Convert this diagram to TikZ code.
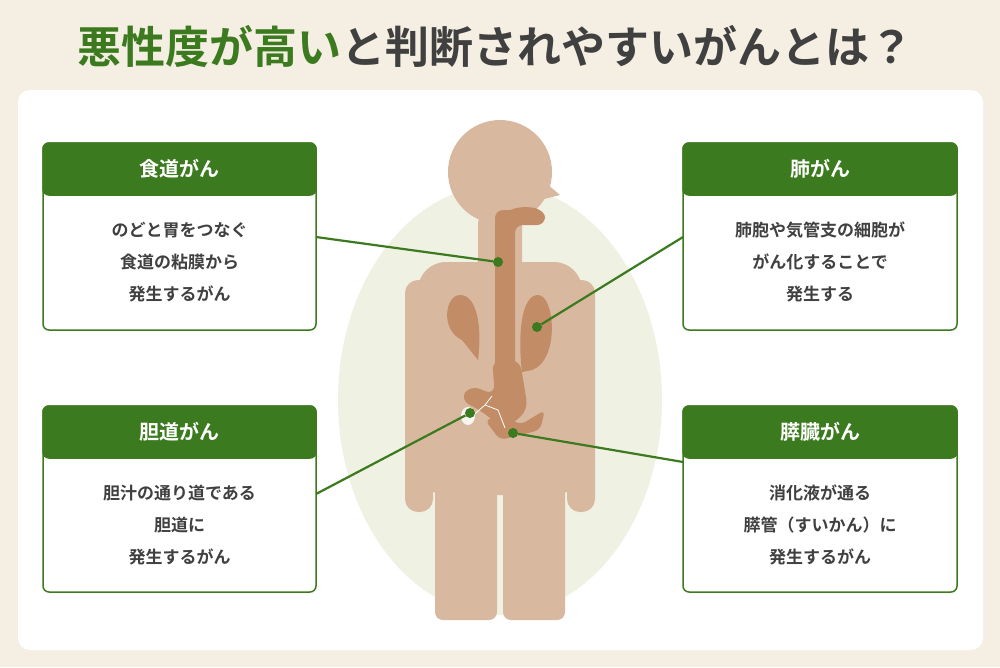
\documentclass[tikz,border=0pt]{standalone}
\usepackage{fontspec}
\setmainfont{Noto Sans CJK JP}
\newfontfamily\jpbold{Noto Sans CJK JP Bold}
\definecolor{bgbeige}{HTML}{F5EEE2}
\definecolor{leaf}{HTML}{3B7A1E}
\definecolor{ink}{HTML}{404040}
\definecolor{skin}{HTML}{D9B8A0}
\definecolor{organ}{HTML}{C28C66}
\definecolor{halo}{HTML}{EFF1E2}
\tikzset{
  head/.style={fill=leaf,draw=leaf,line width=1.5pt,rounded corners=6pt,text=white,font=\jpbold\fontsize{20}{20}\selectfont},
  card/.style={draw=leaf,line width=1.5pt,fill=white,rounded corners=6pt},
  txt/.style={align=center,text=ink,font=\jpbold\fontsize{17}{32}\selectfont},
  pin/.style={draw=leaf,line width=2.2pt},
  dot/.style={fill=leaf,circle,inner sep=0pt,minimum size=10pt}
}
\begin{document}
\begin{tikzpicture}[x=1pt,y=-1pt]
\fill[bgbeige] (0,0) rectangle (1000,667);
\useasboundingbox (0,0) rectangle (1000,667);
\fill[white,rounded corners=12pt] (18,90) rectangle (983,650);
\node (title) at (495,46) {\jpbold\fontsize{44}{44}\selectfont\textcolor{leaf}{悪性度が高い}\textcolor{ink}{と判断されやすいがんとは？}};
% body
\fill[halo] (500,400) ellipse (162 and 215);
\fill[skin] (500,172) circle (52);
\fill[skin] (540,178) -- (560,195) -- (540,200) -- cycle;
\fill[skin,rounded corners=14pt] (478,210) rectangle (522,275);
\fill[skin,rounded corners=28pt] (418,262) rectangle (582,495);
\fill[skin,rounded corners=13pt] (405,280) rectangle (433,512);
\fill[skin,rounded corners=13pt] (567,280) rectangle (595,512);
\fill[skin,rounded corners=8pt] (435,440) rectangle (497,620);
\fill[skin,rounded corners=8pt] (503,440) rectangle (565,620);
\fill[organ,rounded corners=8pt] (495,210) -- (545,210) -- (545,225) -- (515,225) -- (515,370) -- (495,370) -- cycle;
\fill[organ,rounded corners=12pt] (495,215) -- (525,205) -- (548,212) -- (538,225) -- cycle;
\fill[organ] (462,340) .. controls (440,330) and (445,295) .. (460,295) .. controls (478,295) and (482,330) .. (478,360) -- cycle;
\fill[organ] (532,370) .. controls (560,360) and (555,295) .. (538,295) .. controls (520,295) and (518,340) .. (522,372) -- cycle;
\fill[organ,rounded corners=10pt] (492,360) -- (520,360) -- (528,410) -- (505,430) -- (480,410) -- (460,400) -- (470,385) -- (495,395) -- cycle;
\fill[organ,rounded corners=6pt] (485,420) -- (500,440) -- (540,430) -- (545,410) -- (520,425) -- (505,415) -- cycle;
\fill[white!85!skin] (468,416) ellipse (7 and 9);
\draw[white,line width=0.8pt] (470,418) -- (485,405) -- (492,396) (485,405) -- (498,410) -- (505,428);
% cards
\draw[card] (43,143) rectangle (316,330);
\draw[head] (43,143) rectangle (316,195);
\node[head,draw=none,fill=none] (esoT) at (179.5,169) {食道がん};
\node[txt] (esoB) at (179.5,262) {のどと胃をつなぐ\\食道の粘膜から\\発生するがん};
\draw[card] (683,143) rectangle (957,330);
\draw[head] (683,143) rectangle (957,195);
\node[head,draw=none,fill=none] (lungT) at (820,169) {肺がん};
\node[txt] (lungB) at (820,262) {肺胞や気管支の細胞が\\がん化することで\\発生する};
\draw[card] (43,406) rectangle (316,592);
\draw[head] (43,406) rectangle (316,458);
\node[head,draw=none,fill=none] (bileT) at (179.5,432) {胆道がん};
\node[txt] (bileB) at (179.5,525) {胆汁の通り道である\\胆道に\\発生するがん};
\draw[card] (683,406) rectangle (957,592);
\draw[head] (683,406) rectangle (957,458);
\node[head,draw=none,fill=none] (pancT) at (820,432) {膵臓がん};
\node[txt] (pancB) at (820,525) {消化液が通る\\膵管（すいかん）に\\発生するがん};
% connectors
\coordinate (esoL) at (316,237); \coordinate (lungL) at (683,237);
\coordinate (bileL) at (316,494); \coordinate (pancL) at (683,462);
\node[dot] (esoP) at (498,262) {};
\node[dot] (lungP) at (537,327) {};
\node[dot] (bileP) at (470,413) {};
\node[dot] (pancP) at (513,433) {};
\draw[pin] (esoL) -- (esoP);
\draw[pin] (lungL) -- (lungP);
\draw[pin] (bileL) -- (bileP);
\draw[pin] (pancL) -- (pancP);
\end{tikzpicture}
\end{document}
